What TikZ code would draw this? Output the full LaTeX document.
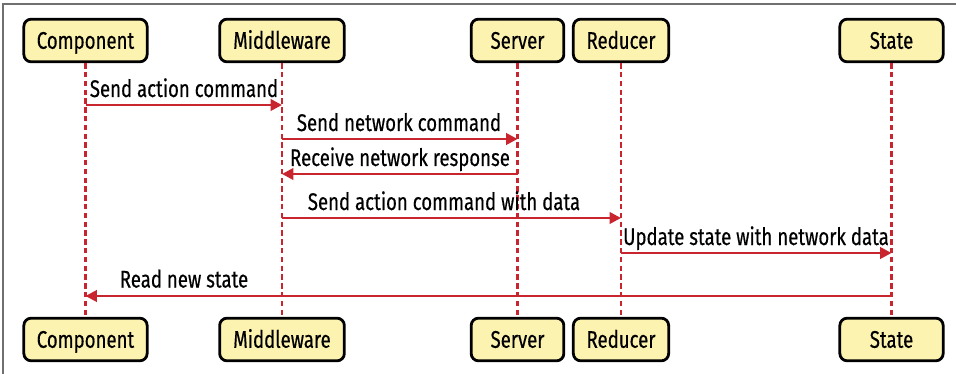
\documentclass[tikz,border=0pt]{standalone}
\usepackage{fontspec}
\setmainfont[FakeStretch=0.775,FakeBold=0.45]{Fira Sans}
\usetikzlibrary{arrows.meta}
\definecolor{boxfill}{HTML}{FDF3B0}
\definecolor{arrowred}{HTML}{C8252F}
\definecolor{framegray}{HTML}{707070}
\begin{document}
\begin{tikzpicture}[x=0.75pt,y=-0.75pt,
  actor/.style={draw=black, line width=2.1pt, rounded corners=5.5pt, fill=boxfill,
    minimum height=32pt, inner sep=0pt, text height=12.4pt, text depth=0pt,
    font=\fontsize{18}{21}\selectfont},
  life/.style={arrowred, line width=2pt, dash pattern=on 4pt off 2.6pt},
  msg/.style={arrowred, line width=2pt, -{Triangle[length=8.5pt,width=8.5pt]}},
  lbl/.style={font=\fontsize{18}{21}\selectfont, anchor=base, inner sep=0pt}]
\useasboundingbox (0,0) rectangle (956,374);
\draw[framegray, line width=1pt] (3,374) -- (3,4) -- (956,4);
% top actors
\node[actor, minimum width=92.5pt] (cT) at (85.5,40.5) {Component};
\node[actor, minimum width=93.5pt] (mT) at (282,40.5) {Middleware};
\node[actor, minimum width=69.5pt] (sT) at (517.5,40.5) {Server};
\node[actor, minimum width=71.5pt] (rT) at (621,40.5) {Reducer};
\node[actor, minimum width=77.5pt] (stT) at (891.5,40.5) {State};
% bottom actors
\node[actor, minimum width=92.5pt] (cB) at (85.5,339.5) {Component};
\node[actor, minimum width=93.5pt] (mB) at (282,339.5) {Middleware};
\node[actor, minimum width=69.5pt] (sB) at (517.5,339.5) {Server};
\node[actor, minimum width=71.5pt] (rB) at (621,339.5) {Reducer};
\node[actor, minimum width=77.5pt] (stB) at (891.5,339.5) {State};
% lifelines
\foreach \a in {c,m,s,r,st}{
  \draw[life] (\a T.south) -- (\a B.north);
}
% message rows
\coordinate (y1) at (0,105);
\coordinate (y2) at (0,139);
\coordinate (y3) at (0,174);
\coordinate (y4) at (0,218);
\coordinate (y5) at (0,253);
\coordinate (y6) at (0,296);
\draw[msg] (cT.south |- y1) -- (mT.south |- y1);
\draw[msg] (mT.south |- y2) -- (sT.south |- y2);
\draw[msg] (sT.south |- y3) -- (mT.south |- y3);
\draw[msg] (mT.south |- y4) -- (rT.south |- y4);
\draw[msg] (rT.south |- y5) -- (stT.south |- y5);
\draw[msg] (stT.south |- y6) -- (cT.south |- y6);
% labels
\node[lbl] (l1) at (184,97) {Send action command};
\node[lbl] (l2) at (399,131) {Send network command};
\node[lbl] (l3) at (400,166) {Receive network response};
\node[lbl] (l4) at (444,210) {Send action command with data};
\node[lbl] (l5) at (756,245) {Update state with network data};
\node[lbl] (l6) at (184,287.5) {Read new state};
\end{tikzpicture}
\end{document}
